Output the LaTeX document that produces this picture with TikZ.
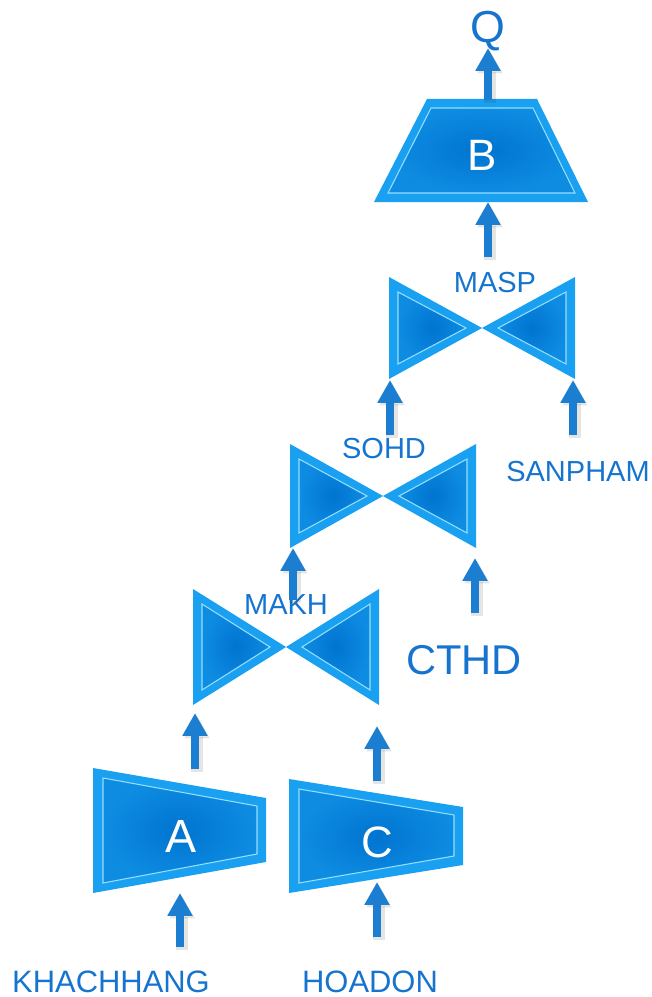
\documentclass[tikz,border=0pt]{standalone}
\usepackage{fontspec}
\setmainfont{Liberation Sans}
\usetikzlibrary{arrows.meta}

\definecolor{opedge}{RGB}{26,160,240}
\definecolor{opdark}{RGB}{0,116,208}
\definecolor{oplight}{RGB}{14,140,226}
\definecolor{oprim}{RGB}{150,222,252}
\definecolor{txtblue}{RGB}{22,116,206}
\definecolor{arrowblue}{RGB}{28,126,208}

% join operator: centre x, centre y, half width, half height
\newcommand{\joinshape}[4]{%
  \fill[opedge] ({#1-#3},{#2-#4}) -- ({#1-#3},{#2+#4}) -- (#1,#2) -- cycle;
  \fill[opedge] ({#1+#3},{#2-#4}) -- ({#1+#3},{#2+#4}) -- (#1,#2) -- cycle;
  \path[opface] ({#1-#3+9},{#2-#4+15}) -- ({#1-#3+9},{#2+#4-15}) -- ({#1-16},#2) -- cycle;
  \path[opface] ({#1+#3-9},{#2-#4+15}) -- ({#1+#3-9},{#2+#4-15}) -- ({#1+16},#2) -- cycle;
}

\begin{document}
\begin{tikzpicture}[
    x=0.02cm, y=-0.02cm,
    opface/.style = { draw=oprim, line width=0.6pt, inner color=opdark, outer color=oplight },
    flow/.style   = { draw=arrowblue, line width=5pt, -{Triangle[length=13pt,width=13.5pt]},
                      preaction={draw=black!70!brown, opacity=0.12, line width=6.5pt,
                                 transform canvas={shift={(1.2pt,-1.5pt)}}} },
    opname/.style = { text=white, font=\fontsize{25}{28}\selectfont },
    tbl/.style    = { text=txtblue, inner sep=0pt, font=\fontsize{17.6}{20}\selectfont },
    attr/.style   = { text=txtblue, inner sep=0pt, font=\fontsize{16.5}{19}\selectfont },
  ]
  \path[use as bounding box] (0,0) rectangle (652,997);

  % operators
  % B (projection)
  \fill[opedge] (427,99) -- (537,99) -- (588,202) -- (374,202) -- cycle;
  \path[opface] (431,108) -- (533,108) -- (575,193) -- (388,193) -- cycle;
  \node[opname] (opB) at (482,155) {B};
  % A, C (selections)
  \fill[opedge] (93,768) -- (266,798) -- (266,862) -- (93,893) -- cycle;
  \path[opface] (103,778) -- (257,806) -- (257,854) -- (103,883) -- cycle;
  \node[opname, font=\fontsize{26.5}{29}\selectfont] (opA) at (181,836) {A};
  \fill[opedge] (289,779) -- (463,807) -- (463,865) -- (289,893) -- cycle;
  \path[opface] (299,789) -- (454,815) -- (454,856) -- (299,883) -- cycle;
  \node[opname] (opC) at (377,842) {C};
  % joins
  \joinshape{482}{328}{93}{51}
  \joinshape{383}{496}{93}{52}
  \joinshape{286}{647}{93}{58}

  % labels
  \node[text=txtblue, font=\fontsize{25.5}{28}\selectfont, anchor=base] (q) at (488,43) {Q};
  \node[attr] (masp) at (495,283) {MASP};
  \node[attr] (sohd) at (384,449) {SOHD};
  \node[attr] (makh) at (286,605) {MAKH};
  \node[attr] (sanpham) at (578,472) {SANPHAM};
  \node[text=txtblue, font=\fontsize{23.7}{26}\selectfont] (cthd) at (464,660) {CTHD};
  \node[tbl] (khachhang) at (111,982) {KHACHHANG};
  \node[tbl] (hoadon) at (370,982) {HOADON};

  % arrow ends
  \coordinate (q-in)     at (488,48);
  \coordinate (B-top)    at (488,100);
  \coordinate (B-bot)    at (488,202);
  \coordinate (masp-up)  at (488,257);
  \coordinate (masp-l)   at (390,380);
  \coordinate (masp-r)   at (573,380);
  \coordinate (sohd-up)  at (390,435);
  \coordinate (sanp-up)  at (573,435);
  \coordinate (sohd-l)   at (293,548);
  \coordinate (sohd-r)   at (475,558);
  \coordinate (makh-up)  at (293,600);
  \coordinate (cthd-up)  at (475,613);
  \coordinate (makh-l)   at (195,713);
  \coordinate (makh-r)   at (377,726);
  \coordinate (A-out)    at (195,769);
  \coordinate (C-out)    at (377,781);
  \coordinate (A-in)     at (180,893);
  \coordinate (C-in)     at (377,882);
  \coordinate (kh-up)    at (180,947);
  \coordinate (hd-up)    at (377,937);

  % connect
  \draw[flow] (B-top) -- (q-in);
  \draw[flow] (masp-up) -- (B-bot);
  \draw[flow] (sohd-up) -- (masp-l);
  \draw[flow] (sanp-up) -- (masp-r);
  \draw[flow] (makh-up) -- (sohd-l);
  \draw[flow] (cthd-up) -- (sohd-r);
  \draw[flow] (A-out) -- (makh-l);
  \draw[flow] (C-out) -- (makh-r);
  \draw[flow] (kh-up) -- (A-in);
  \draw[flow] (hd-up) -- (C-in);
\end{tikzpicture}
\end{document}
